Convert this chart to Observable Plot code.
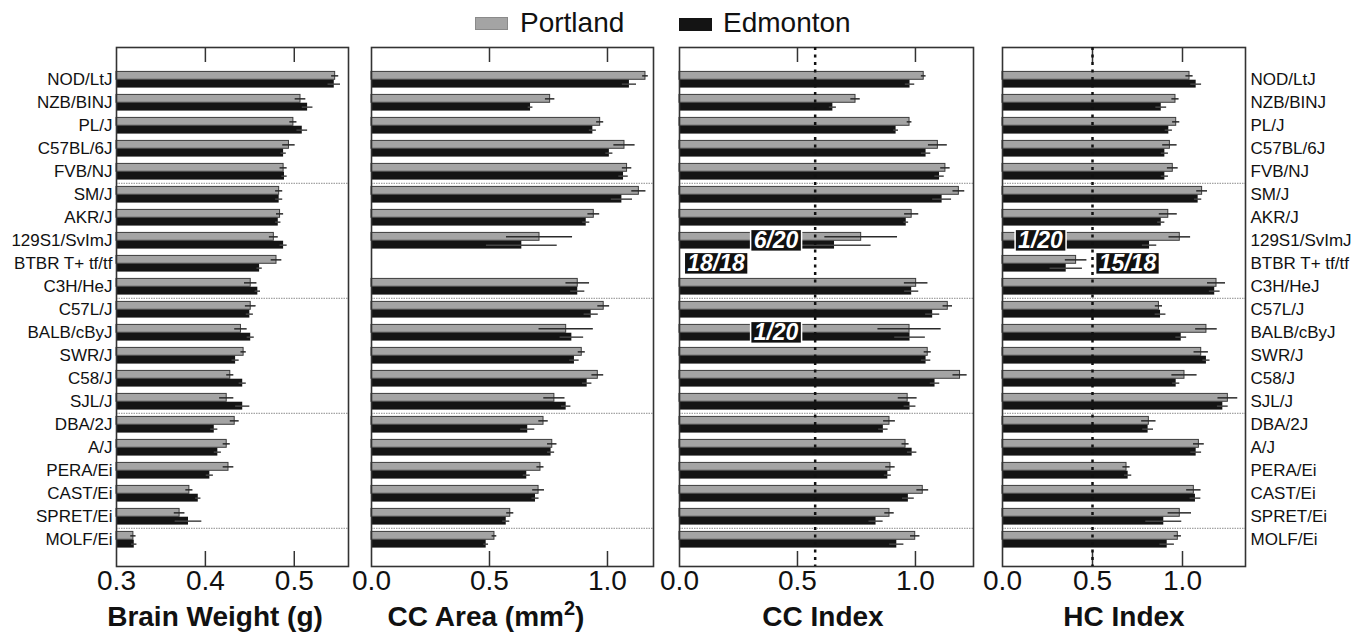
<!DOCTYPE html>
<html>
<head>
<meta charset="utf-8">
<script src="https://cdn.jsdelivr.net/npm/d3@7"></script>
<script src="https://cdn.jsdelivr.net/npm/@observablehq/plot@0.6"></script>
<style>
  body { margin: 0; background: #fff; font-family: "Liberation Sans", Arial, sans-serif; }
  #root { position: relative; width: 1364px; height: 644px; overflow: hidden; background: #fff; }
  .panel { position: absolute; top: 0; }
  .title { position: absolute; font-weight: bold; font-size: 28px; line-height: 28px; white-space: nowrap; color: #111; text-align: center; width: 320px; }
  .leg { position: absolute; font-size: 28px; line-height: 28px; white-space: nowrap; color: #111; }
  .sw { position: absolute; width: 33px; height: 13px; }
</style>
</head>
<body>
<div id="root"></div>
<script>
// ---------- data ----------
const strains = ["NOD/LtJ","NZB/BINJ","PL/J","C57BL/6J","FVB/NJ","SM/J","AKR/J","129S1/SvImJ","BTBR T+ tf/tf","C3H/HeJ","C57L/J","BALB/cByJ","SWR/J","C58/J","SJL/J","DBA/2J","A/J","PERA/Ei","CAST/Ei","SPRET/Ei","MOLF/Ei"];
const series = ["Portland", "Edmonton"];
const groupStarts = ["SM/J", "C57L/J", "DBA/2J", "MOLF/Ei"];

// Brain weight (g)
const bwPortland = [0.546,0.507,0.499,0.494,0.488,0.483,0.484,0.477,0.480,0.451,0.451,0.440,0.443,0.428,0.424,0.433,0.424,0.426,0.382,0.371,0.319];
const bwEdmonton = [0.545,0.515,0.509,0.488,0.489,0.483,0.482,0.488,0.461,0.459,0.450,0.451,0.434,0.442,0.442,0.410,0.414,0.405,0.392,0.381,0.320];
const bwPortlandErr = [0.004,0.006,0.004,0.007,0.004,0.004,0.004,0.005,0.006,0.007,0.006,0.007,0.003,0.004,0.008,0.005,0.004,0.006,0.004,0.006,0.003];
const bwEdmontonErr = [0.007,0.006,0.006,0.003,0.003,0.004,0.003,0.004,0.003,0.003,0.004,0.004,0.004,0.004,0.008,0.004,0.004,0.004,0.003,0.015,0.003];

// CC area (mm2) — BTBR has no corpus callosum
const ccaPortland = [1.161,0.757,0.969,1.072,1.083,1.133,0.942,0.712,null,0.874,0.984,0.825,0.891,0.959,0.775,0.729,0.766,0.716,0.708,0.588,0.521];
const ccaEdmonton = [1.093,0.674,0.938,1.008,1.068,1.061,0.910,0.637,null,0.874,0.931,0.849,0.860,0.914,0.825,0.662,0.761,0.658,0.695,0.571,0.486];
const ccaPortlandErr = [0.012,0.020,0.015,0.045,0.020,0.030,0.025,0.140,null,0.050,0.025,0.115,0.015,0.025,0.045,0.020,0.020,0.015,0.025,0.015,0.010];
const ccaEdmontonErr = [0.030,0.010,0.015,0.015,0.020,0.045,0.015,0.150,null,0.030,0.030,0.050,0.020,0.020,0.020,0.030,0.015,0.015,0.015,0.015,0.010];

// CC index
const cciPortland = [1.035,0.746,0.975,1.095,1.127,1.184,0.984,0.770,null,1.003,1.137,0.975,1.052,1.189,0.967,0.890,0.958,0.894,1.031,0.890,0.999];
const cciEdmonton = [0.977,0.650,0.918,1.045,1.102,1.113,0.961,0.657,null,0.984,1.073,0.977,1.045,1.083,0.977,0.864,0.986,0.883,0.970,0.833,0.921];
const cciPortlandErr = [0.010,0.020,0.010,0.040,0.020,0.025,0.030,0.154,null,0.050,0.020,0.134,0.015,0.030,0.040,0.025,0.015,0.020,0.025,0.020,0.020];
const cciEdmontonErr = [0.020,0.015,0.010,0.020,0.020,0.040,0.010,0.155,null,0.030,0.030,0.065,0.020,0.020,0.025,0.020,0.020,0.015,0.025,0.030,0.030];

// HC index
const hciPortland = [1.039,0.961,0.965,0.930,0.946,1.109,0.921,0.985,0.409,1.189,0.869,1.133,1.104,1.011,1.252,0.813,1.091,0.689,1.063,0.985,0.974];
const hciEdmonton = [1.076,0.882,0.924,0.902,0.902,1.087,0.882,0.817,0.354,1.179,0.878,0.993,1.133,0.965,1.224,0.809,1.076,0.698,1.072,0.896,0.915];
const hciPortlandErr = [0.020,0.020,0.020,0.040,0.030,0.030,0.050,0.060,0.060,0.050,0.020,0.060,0.040,0.070,0.055,0.040,0.030,0.020,0.040,0.065,0.020];
const hciEdmontonErr = [0.030,0.030,0.020,0.020,0.020,0.020,0.020,0.040,0.090,0.030,0.030,0.030,0.020,0.020,0.030,0.030,0.030,0.020,0.030,0.100,0.040];

// Thresholds and counts of abnormal animals
const ccThreshold = 0.575;
const hcThreshold = 0.5;
const ccNotes = [
  {strain: "129S1/SvImJ", x: 0.409, label: "6/20"},
  {strain: "BTBR T+ tf/tf", x: 0.155, label: "18/18"},
  {strain: "BALB/cByJ", x: 0.409, label: "1/20"}
];
const hcNotes = [
  {strain: "129S1/SvImJ", x: 0.211, label: "1/20"},
  {strain: "BTBR T+ tf/tf", x: 0.694, label: "15/18"}
];

// ---------- drawing ----------
const H = 644, MT = 47, MB = 78;
const frameH = H - MT - MB;
const yRange = [MT + 16.3, H - MB - 10.8];
const band = (yRange[1] - yRange[0]) / strains.length;
const barH = 8.3;
const GRAY = "#a4a4a4", BLACK = "#141414";
const FONT = "Liberation Sans, Arial, sans-serif";

function panel({P, E, eP, eE, domain, ticks, left, width, mL, mR, yAxis, ref, notes}) {
  const rows = strains.map((s, i) => ({strain: s, p: P[i], e: E[i], ep: eP[i], ee: eE[i]}));
  const gray = rows.filter(d => d.p != null);
  const black = rows.filter(d => d.e != null);
  const inner = ticks.slice(1);
  const marks = [
    Plot.ruleY(groupStarts, {y: d => d, dy: -band / 2, stroke: "#8c8c8c", strokeWidth: 1, strokeDasharray: "1.5,1"}),
    Plot.barX(gray, {x1: () => domain[0], x2: "p", y: "strain", insetTop: band / 2 - barH, insetBottom: band / 2, fill: GRAY, stroke: "#3c3c3c", strokeWidth: 1}),
    Plot.barX(black, {x1: () => domain[0], x2: "e", y: "strain", insetTop: band / 2, insetBottom: band / 2 - barH, fill: BLACK}),
    Plot.ruleY(gray, {y: "strain", x1: d => d.p - d.ep, x2: d => d.p + d.ep, dy: -barH / 2, stroke: "#2a2a2a", strokeWidth: 1.5}),
    Plot.ruleY(black, {y: "strain", x1: d => d.e - d.ee, x2: d => d.e + d.ee, dy: barH / 2, stroke: "#444", strokeWidth: 1.5}),
    Plot.ruleX(inner, {insetBottom: frameH - 15, stroke: "#333", strokeWidth: 1.5}),
    Plot.ruleX(inner, {insetTop: frameH - 15, stroke: "#333", strokeWidth: 1.5}),
    Plot.frame({stroke: "#333", strokeWidth: 1.6}),
    Plot.axisX({ticks, tickSize: 0, tickPadding: 4, fontSize: 28, tickFormat: d3.format(".1f"), label: null, fill: "#111"})
  ];
  if (ref != null) marks.push(Plot.ruleX([ref], {stroke: "#111", strokeWidth: 2.5, strokeDasharray: "3,4.5"}));
  if (notes) marks.push(Plot.text(notes, {x: "x", y: "strain", text: "label", fill: "white", fontSize: 23, fontWeight: "bold", fontStyle: "italic"}));
  if (yAxis) marks.push(Plot.axisY({anchor: yAxis, tickSize: 0, tickPadding: yAxis === "left" ? 4 : 5, fontSize: 17, label: null, fill: "#111"}));
  const svg = Plot.plot({
    width, height: H,
    marginTop: MT, marginBottom: MB, marginLeft: mL, marginRight: mR,
    style: {fontFamily: FONT, background: "transparent", overflow: "visible", color: "#111"},
    x: {domain, axis: null},
    y: {domain: strains, range: yRange, padding: 0, axis: null},
    marks
  });
  svg.classList.add("panel");
  svg.style.left = left + "px";
  document.getElementById("root").appendChild(svg);
  return svg;
}

function boxNotes(svg) {
  svg.querySelectorAll('g[font-style="italic"] text').forEach(t => {
    const b = t.getBBox();
    const r = document.createElementNS("http://www.w3.org/2000/svg", "rect");
    const padX = 3, h = 22;
    r.setAttribute("x", b.x - padX);
    r.setAttribute("y", b.y + b.height / 2 - h / 2);
    r.setAttribute("width", b.width + 2 * padX);
    r.setAttribute("height", h);
    r.setAttribute("fill", "#111");
    r.setAttribute("stroke", "#fff");
    r.setAttribute("stroke-width", 1.5);
    if (t.getAttribute("transform")) r.setAttribute("transform", t.getAttribute("transform"));
    t.parentNode.insertBefore(r, t);
  });
}

panel({P: bwPortland, E: bwEdmonton, eP: bwPortlandErr, eE: bwEdmontonErr,
  domain: [0.3, 0.561], ticks: [0.3, 0.4, 0.5], left: 0, width: 360, mL: 116, mR: 12, yAxis: "left"});
panel({P: ccaPortland, E: ccaEdmonton, eP: ccaPortlandErr, eE: ccaEdmontonErr,
  domain: [0, 1.195], ticks: [0, 0.5, 1.0], left: 360, width: 306, mL: 11, mR: 13});
const s3 = panel({P: cciPortland, E: cciEdmonton, eP: cciPortlandErr, eE: cciEdmontonErr,
  domain: [0, 1.246], ticks: [0, 0.5, 1.0], left: 666, width: 319, mL: 13, mR: 12, ref: ccThreshold, notes: ccNotes});
const s4 = panel({P: hciPortland, E: hciEdmonton, eP: hciPortlandErr, eE: hciEdmontonErr,
  domain: [0, 1.35], ticks: [0, 0.5, 1.0], left: 985, width: 379, mL: 17, mR: 119, yAxis: "right", ref: hcThreshold, notes: hcNotes});
boxNotes(s3);
boxNotes(s4);

// ---------- titles & legend ----------
const root = document.getElementById("root");
function addDiv(cls, html, css) {
  const d = document.createElement("div");
  d.className = cls;
  d.innerHTML = html;
  Object.assign(d.style, css);
  root.appendChild(d);
  return d;
}
const titles = [
  {html: "Brain Weight (g)", center: 215},
  {html: "CC Area (mm<span style=\"position:relative;top:-11px;font-size:20px\">2</span>)", center: 486},
  {html: "CC Index", center: 823},
  {html: "HC Index", center: 1124}
];
titles.forEach(t => addDiv("title", t.html, {left: (t.center - 160) + "px", top: "603px"}));

addDiv("sw", "", {left: "475px", top: "17px", background: GRAY, boxShadow: "inset 0 0 0 1px #8a8a8a"});
addDiv("leg", series[0], {left: "520px", top: "9px"});
addDiv("sw", "", {left: "679px", top: "18px", background: BLACK});
addDiv("leg", series[1], {left: "723px", top: "9px"});
</script>
</body>
</html>
